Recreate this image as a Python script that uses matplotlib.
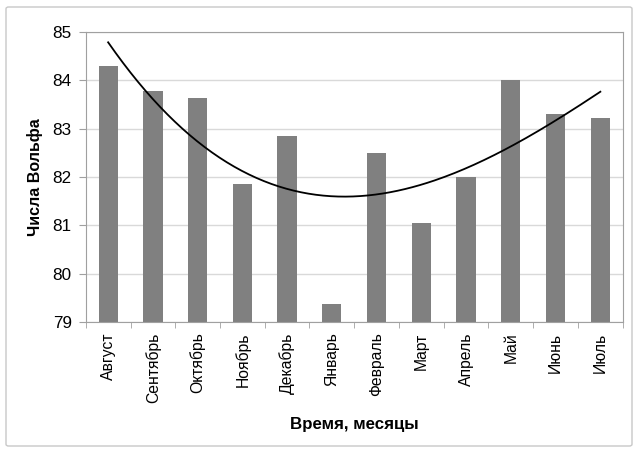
import numpy as np
import matplotlib.pyplot as plt
from matplotlib.patches import FancyBboxPatch

plt.rcParams['font.family'] = ['Liberation Sans', 'DejaVu Sans']

months = ['Август', 'Сентябрь', 'Октябрь', 'Ноябрь', 'Декабрь', 'Январь',
          'Февраль', 'Март', 'Апрель', 'Май', 'Июнь', 'Июль']
wolf = [84.30, 83.78, 83.62, 81.85, 82.84, 79.38,
        82.49, 81.05, 81.99, 84.00, 83.29, 83.21]

x = np.arange(1, len(months) + 1)

# polynomial trend line (3rd order) like the Excel one
coef = np.polyfit(x, wolf, 3)
xs = np.linspace(1, len(months), 200)
trend = np.polyval(coef, xs)

fig = plt.figure(figsize=(6.4, 4.53), dpi=100)
ax = fig.add_axes([0.134, 0.289, 0.839, 0.641])

# outer frame of the chart
fig.patches.append(FancyBboxPatch((6 / 640, 7 / 453), 626 / 640, 439 / 453,
                                  boxstyle='round,pad=0,rounding_size=0.004',
                                  transform=fig.transFigure, fill=False,
                                  ec='#c8c8c8', lw=1))

ax.bar(x, np.array(wolf) - 79, bottom=79, width=0.43, color='#808080', zorder=2)
ax.plot(xs, trend, color='black', lw=1.3, zorder=3)

ax.set_xlim(0.5, len(months) + 0.5)
ax.set_ylim(79, 85)
ax.set_yticks(range(79, 86))
ax.grid(True, axis='y', color='#d9d9d9', lw=1, zorder=0)

ax.set_xticks(x)
ax.set_xticklabels(months, rotation=90, fontsize=11.3)
ax.set_xticks(np.arange(0.5, len(months) + 1), minor=True)
ax.tick_params(axis='x', which='major', length=0, pad=7.5)
ax.tick_params(axis='x', which='minor', length=4, color='#a0a0a0')
ax.tick_params(axis='y', length=5, color='#a0a0a0', labelsize=12.3, pad=5)

for s in ax.spines.values():
    s.set_color('#a0a0a0')

ax.set_ylabel('Числа Вольфа', fontsize=11.5, fontweight='bold', labelpad=7)
ax.set_xlabel('Время, месяцы', fontsize=12.2, fontweight='bold', labelpad=10)

fig.savefig('out.png', dpi=100)
